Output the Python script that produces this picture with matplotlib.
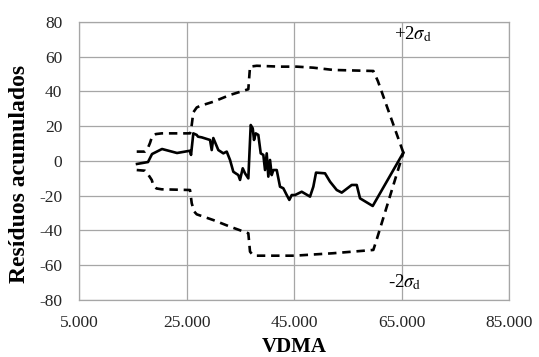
import matplotlib.pyplot as plt
from matplotlib.ticker import FixedLocator

plt.rcParams['font.family'] = 'Liberation Serif'
plt.rcParams['mathtext.fontset'] = 'stix'

# cumulative residuals (solid line)
vdma = [15791, 17837, 18581, 20442, 23233, 25651, 25837, 26265, 26898, 27140,
        27828, 29372, 29688, 29986, 30916, 31847, 32479, 33093, 33707, 34637,
        34953, 35456, 35884, 36498, 36944, 37316, 37558, 37875, 38358, 38805,
        39289, 39605, 39921, 40219, 40535, 40851, 41149, 41781, 42395, 43009,
        43642, 44125, 44572, 45186, 46432, 47977, 48591, 49093, 50767, 51698,
        52944, 53875, 55735, 56666, 57279, 59642, 65335]
residuos = [-1.7, -0.6, 4.0, 6.9, 4.6, 5.9, 3.5, 15.9, 15.0, 14.0,
            13.6, 12.1, 6.3, 13.2, 6.3, 4.4, 5.4, 0.6, -6.2, -8.1,
            -10.9, -4.2, -7.1, -10.0, 20.7, 18.8, 12.1, 15.9, 15.0, 4.4,
            3.5, -5.2, 4.4, -9.0, 0.6, -8.1, -5.2, -5.2, -14.8, -15.7,
            -19.6, -22.4, -19.6, -19.6, -17.7, -20.5, -14.8, -6.7, -7.1, -11.9,
            -16.7, -18.2, -13.8, -13.8, -21.5, -25.9, 4.8]

# +2 sigma_d envelope
sup_x = [15735, 17279, 17750, 18209, 18582, 19300, 20386, 25651, 25968, 26265,
         26900, 27512, 29986, 33093, 36498, 36814, 38060, 42395, 45503, 48591,
         52312, 59754, 60600, 65335]
sup_y = [5.4, 5.4, 7.0, 10.4, 14.0, 15.5, 15.9, 15.9, 20.7, 28.0,
         30.8, 31.7, 34.1, 38.0, 41.3, 54.3, 54.8, 54.3, 54.3, 53.7,
         52.4, 51.8, 46.0, 4.8]

# -2 sigma_d envelope
inf_x = [15735, 17279, 17800, 18526, 18824, 19400, 20386, 25651, 25968, 26400,
         26898, 29986, 33093, 36498, 36814, 37300, 38060, 45117, 52256, 59754,
         60400, 65335]
inf_y = [-5.2, -5.6, -7.5, -10.9, -13.8, -15.8, -16.3, -16.7, -24.3, -29.0,
         -30.7, -34.0, -37.8, -41.6, -52.2, -54.0, -54.5, -54.5, -53.1, -51.2,
         -45.0, 4.8]

x_ticks = [5000, 25000, 45000, 65000, 85000]
x_labels = ['5.000', '25.000', '45.000', '65.000', '85.000']
y_ticks = [-80, -60, -40, -20, 0, 20, 40, 60, 80]

fig = plt.figure(figsize=(5.39, 3.57), dpi=100)
ax = fig.add_axes([0.1466, 0.1597, 0.7978, 0.7787])

ax.plot(sup_x, sup_y, color='black', lw=1.9, dashes=(3.2, 2.2))
ax.plot(inf_x, inf_y, color='black', lw=1.9, dashes=(3.2, 2.2))
ax.plot(vdma, residuos, color='black', lw=1.9)

ax.set_xlim(5000, 85000)
ax.set_ylim(-80, 80)
ax.xaxis.set_major_locator(FixedLocator(x_ticks))
ax.set_xticklabels(x_labels)
ax.yaxis.set_major_locator(FixedLocator(y_ticks))
ax.set_yticklabels([str(v) for v in y_ticks])
ax.tick_params(length=0, labelsize=12.5, colors='#262626')
ax.tick_params(axis='x', pad=11)
ax.tick_params(axis='y', pad=12)

ax.grid(color='#a6a6a6', lw=0.9)
ax.set_axisbelow(True)
for s in ax.spines.values():
    s.set_color('#a6a6a6')
    s.set_linewidth(0.9)

ax.set_xlabel('VDMA', fontsize=15, fontweight='bold', labelpad=4)
ax.set_ylabel('Resíduos acumulados', fontsize=17, fontweight='bold')
ax.yaxis.set_label_coords(-0.115, 0.453)

ax.text(63600, 73, r'+2$\sigma_\mathrm{d}$', fontsize=13.5, ha='left', va='center')
ax.text(62500, -69.5, r'-2$\sigma_\mathrm{d}$', fontsize=13.5, ha='left', va='center')

fig.savefig('out.png', dpi=100)
